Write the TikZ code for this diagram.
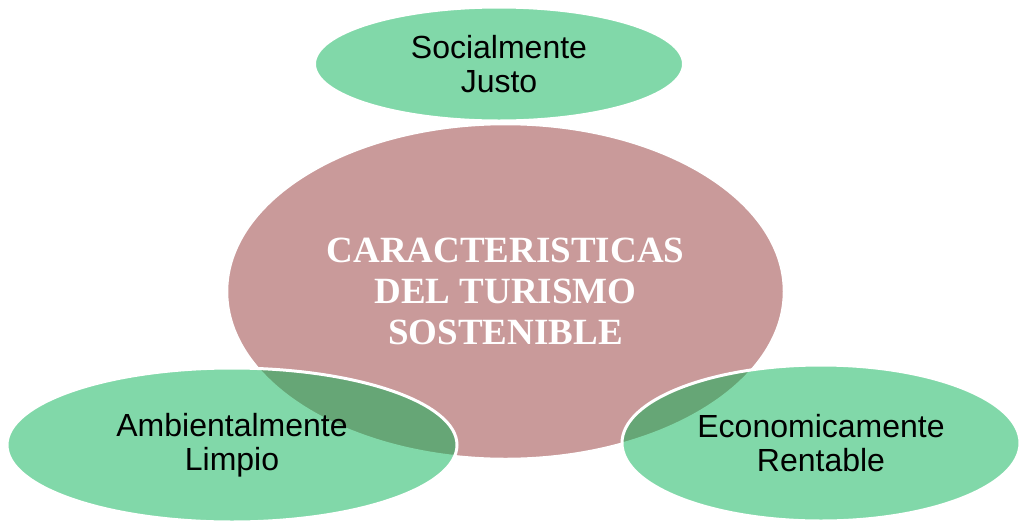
\documentclass[tikz,border=0pt]{standalone}
\usepackage{fontspec}
\setmainfont{Liberation Serif}
\newfontfamily\sansf{Liberation Sans}
\usetikzlibrary{shapes.geometric}
\definecolor{hubred}{RGB}{201,154,154}
\definecolor{leafgreen}{RGB}{4,178,83}
\tikzset{
  hub/.style={ellipse, inner sep=0pt, fill=hubred, draw=white, line width=1.5pt,
    text=white, align=center, font=\bfseries\fontsize{37}{41}\selectfont},
  leaf/.style={ellipse, inner sep=0pt, fill=leafgreen, fill opacity=0.5, text opacity=1,
    draw=white, draw opacity=1, line width=3pt, text=black, align=center,
    font=\sansf\fontsize{32}{34}\selectfont}
}
\begin{document}
\begin{tikzpicture}[x=1pt,y=-1pt]
\useasboundingbox (0,0) rectangle (1021,523);
\node[hub, minimum width=556pt, minimum height=334pt] (center) at (505.5,291.5)
  {CARACTERISTICAS\\DEL TURISMO\\SOSTENIBLE};
\node[leaf, minimum width=369pt, minimum height=114pt] (soc) at (499,64)
  {Socialmente\\Justo};
\node[leaf, minimum width=450pt, minimum height=154pt] (amb) at (232,445)
  {Ambientalmente\\Limpio};
\node[leaf, minimum width=398pt, minimum height=156pt] (eco) at (821,443)
  {Economicamente\\Rentable};
\end{tikzpicture}
\end{document}
